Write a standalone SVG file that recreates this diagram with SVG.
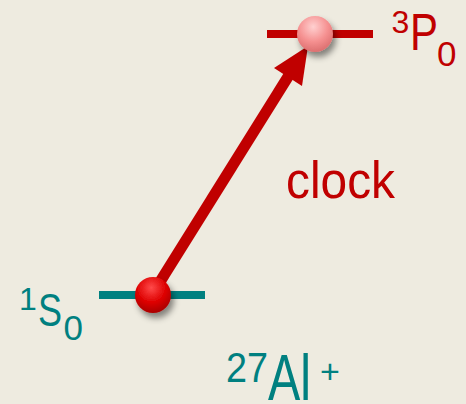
<svg xmlns="http://www.w3.org/2000/svg" width="466" height="404" viewBox="0 0 466 404">
<style>
.f{font-family:"Liberation Sans",Arial,sans-serif}
.red{fill:#c00000}
.teal{fill:#008080}
</style>
<defs>
<radialGradient id="gRed" cx="0.45" cy="0.3" r="0.75">
<stop offset="0" stop-color="#ff4a4a"/>
<stop offset="0.55" stop-color="#dd0000"/>
<stop offset="1" stop-color="#a00000"/>
</radialGradient>
<radialGradient id="gPink" cx="0.45" cy="0.3" r="0.75">
<stop offset="0" stop-color="#ffd0d0"/>
<stop offset="0.55" stop-color="#f59090"/>
<stop offset="1" stop-color="#d86a6a"/>
</radialGradient>
<filter id="sh" x="-50%" y="-50%" width="200%" height="200%">
<feDropShadow dx="3" dy="5" stdDeviation="3" flood-color="#000" flood-opacity="0.45"/>
</filter>
</defs>
<rect width="466" height="404" fill="#eeebe0"/>
<g id="level-3P0">
<rect x="267" y="30" width="106" height="8" class="red"/>
</g>
<g id="level-1S0">
<rect x="99" y="291" width="106" height="8" class="teal"/>
</g>
<g id="connectors">
<line x1="153" y1="293" x2="291" y2="72" stroke="#c00000" stroke-width="11"/>
<polygon points="308,46 274,68 302,86" class="red"/>
</g>
<g id="ball-lower">
<circle cx="153" cy="295" r="18" fill="url(#gRed)" filter="url(#sh)"/>
</g>
<g id="ball-upper">
<circle cx="315" cy="34" r="18" fill="url(#gPink)" filter="url(#sh)"/>
</g>
<g id="label-3P0" class="f red">
<text x="391.5" y="33" font-size="32">3</text>
<text x="410" y="50" font-size="52" textLength="28" lengthAdjust="spacingAndGlyphs">P</text>
<text x="437" y="66" font-size="35">0</text>
</g>
<g id="label-clock" class="f red">
<text x="286" y="198" font-size="52" textLength="109" lengthAdjust="spacingAndGlyphs">clock</text>
</g>
<g id="label-1S0" class="f teal">
<text x="19" y="310" font-size="32">1</text>
<text x="38" y="326" font-size="47" textLength="24" lengthAdjust="spacingAndGlyphs">S</text>
<text x="63.5" y="340" font-size="35">0</text>
</g>
<g id="label-Al" class="f teal">
<text x="226" y="382" font-size="42" textLength="42" lengthAdjust="spacingAndGlyphs">27</text>
<text x="268" y="400" font-size="65" textLength="43" lengthAdjust="spacingAndGlyphs">Al</text>
<text x="320" y="383" font-size="34">+</text>
</g>
</svg>
